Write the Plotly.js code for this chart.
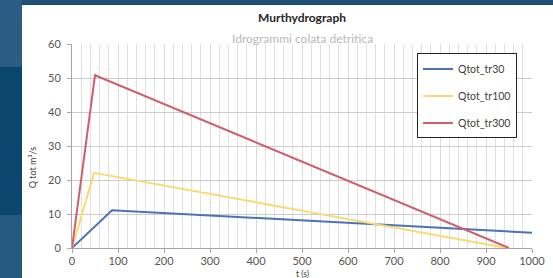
<!DOCTYPE html>
<html>
<head>
<meta charset="utf-8">
<script src="https://cdn.plot.ly/plotly-3.0.1.min.js"></script>
<style>
  html, body { margin:0; padding:0; width:553px; height:278px; overflow:hidden; background:#1c4f73; }
  #s1 { position:absolute; left:0; top:0; width:22px; height:67px; background:#2b5d84; }
  #s2 { position:absolute; left:0; top:67px; width:22px; height:148px; background:#0b466e; }
  #s3 { position:absolute; left:0; top:215px; width:22px; height:63px; background:#255a80; }
  #chart { position:absolute; left:22px; top:5px; width:531px; height:273px; background:#fff; }
</style>
</head>
<body>
<div id="s1"></div><div id="s2"></div><div id="s3"></div>
<div id="chart"></div>
<script>
// Data
const seriesNames = ["Qtot_tr30", "Qtot_tr100", "Qtot_tr300"];
const t_tr30   = [0, 87, 1000];
const q_tr30   = [0, 11.1, 4.5];
const t_tr100  = [0, 48, 945];
const q_tr100  = [0, 22.1, 0];
const t_tr300  = [0, 50, 950];
const q_tr300  = [0, 50.8, 0];
const xTicks = [0, 100, 200, 300, 400, 500, 600, 700, 800, 900, 1000];
const yTicks = [0, 10, 20, 30, 40, 50, 60];

const colors = ["#4a72b8", "#f7da74", "#d05f6e"];
const xs = [t_tr30, t_tr100, t_tr300];
const ys = [q_tr30, q_tr100, q_tr300];

const traces = seriesNames.map((n, i) => ({
  x: xs[i], y: ys[i], name: n, type: "scatter", mode: "lines",
  line: {color: colors[i], width: 2}, legendgroup: "g" + i
}));

const font = "Lato, 'Open Sans', sans-serif";
const layout = {
  width: 531, height: 273,
  margin: {l: 50, r: 21, t: 39, b: 30},
  paper_bgcolor: "#ffffff", plot_bgcolor: "#ffffff",
  font: {family: font, size: 11, color: "#595959"},
  title: {text: "<b>Murthydrograph</b>", x: 0.5, xref: "paper", xanchor: "center",
          y: 1 - 13/273, yref: "container", yanchor: "middle",
          font: {family: font, size: 12, color: "#262626"}},
  xaxis: {range: [0, 1000], tickvals: xTicks, ticktext: xTicks.map(String),
          showgrid: true, gridcolor: "#dcdcdc", gridwidth: 1,
          ticks: "outside", ticklen: 4, tickcolor: "#a6a6a6", ticklabelstandoff: -1,
          showline: true, linecolor: "#a6a6a6", linewidth: 1, zeroline: false,
          minor: {dtick: 20, showgrid: true, gridcolor: "#e0e0e0", gridwidth: 1, ticks: ""},
          tickfont: {size: 11, color: "#555555"}},
  yaxis: {range: [0, 60], tickvals: yTicks, ticktext: yTicks.map(String),
          showgrid: true, gridcolor: "#cccccc", gridwidth: 1,
          ticks: "outside", ticklen: 4, tickcolor: "#a6a6a6", ticklabelstandoff: 4,
          showline: true, linecolor: "#a6a6a6", linewidth: 1, zeroline: false,
          tickfont: {size: 11, color: "#555555"}},
  showlegend: true,
  legend: {x: 0.75, y: 0.954, xanchor: "left", yanchor: "top",
           bgcolor: "#ffffff", bordercolor: "#222222", borderwidth: 1,
           font: {family: font, size: 10.5, color: "#404040"},
           traceorder: "grouped", tracegroupgap: 8, entrywidth: 80},
  annotations: [
    {text: "Idrogrammi colata detritica", xref: "paper", yref: "paper",
     x: 0.5, y: 1.025, xanchor: "center", yanchor: "middle", showarrow: false,
     font: {family: font, size: 12, color: "#b8b8b8"}},
    {text: "Q tot m³/s", xref: "paper", yref: "paper", x: -0.087, y: 0.396,
     xanchor: "center", yanchor: "middle", textangle: -90, showarrow: false,
     font: {family: font, size: 9, color: "#404040"}},
    {text: "t (s)", xref: "paper", yref: "paper", x: 0.5, y: -0.128,
     xanchor: "center", yanchor: "middle", showarrow: false, borderpad: 0,
     font: {family: font, size: 8.5, color: "#404040"}}
  ]
};

Plotly.newPlot("chart", traces, layout, {displayModeBar: false, staticPlot: true});
</script>
</body>
</html>
